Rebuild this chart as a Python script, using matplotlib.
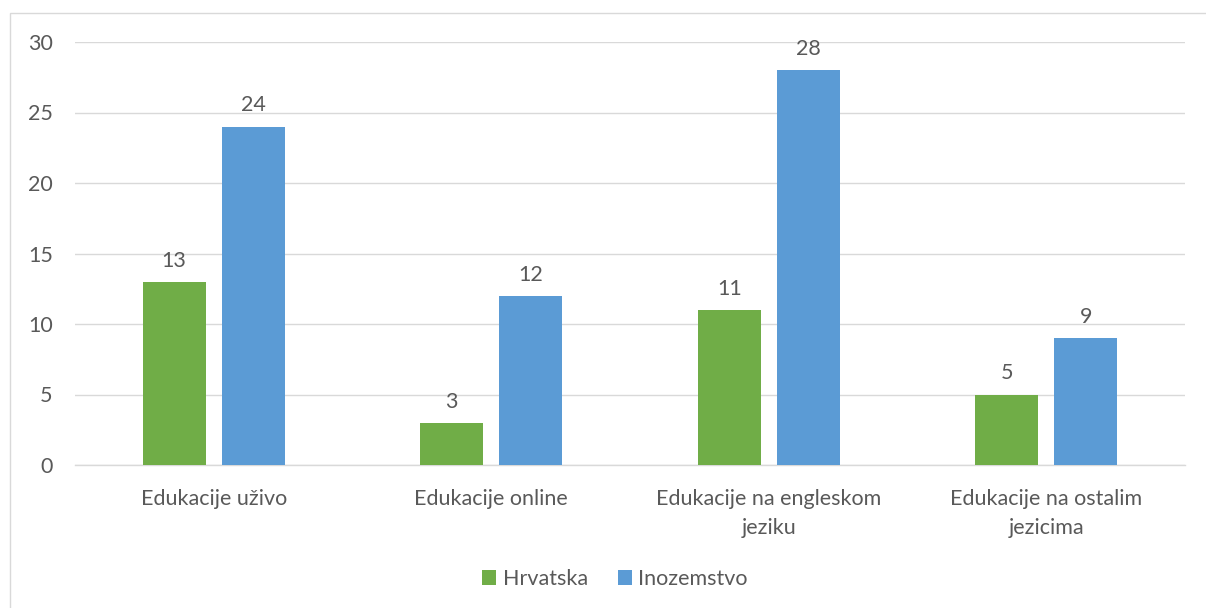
import matplotlib
matplotlib.use("Agg")
import matplotlib.pyplot as plt
from matplotlib.patches import Rectangle
import numpy as np

categories = ["Edukacije uživo", "Edukacije online", "Edukacije na engleskom\njeziku", "Edukacije na ostalim\njezicima"]
hrvatska = [13, 3, 11, 5]
inozemstvo = [24, 12, 28, 9]
series_names = ["Hrvatska", "Inozemstvo"]
yticks = [0, 5, 10, 15, 20, 25, 30]

GREEN = "#70AD47"
BLUE = "#5B9BD5"
TXT = "#595959"
GRID = "#D9D9D9"

plt.rcParams['font.family'] = ['Lato', 'DejaVu Sans']
FS = 15.5

fig = plt.figure(figsize=(12.06, 6.08), dpi=100)
W, H = 1206, 608
ax = fig.add_axes([75 / W, 1 - 465 / H, 1110 / W, 423 / H])

x = np.arange(len(categories))
bw = 0.227
off = 0.1425
b1 = ax.bar(x - off, hrvatska, bw, color=GREEN, label=series_names[0], zorder=3)
b2 = ax.bar(x + off, inozemstvo, bw, color=BLUE, label=series_names[1], zorder=3)

for bars, vals in ((b1, hrvatska), (b2, inozemstvo)):
    for r, v in zip(bars, vals):
        ax.annotate(str(v), (r.get_x() + r.get_width() / 2, v), xytext=(0, 8),
                    textcoords="offset points", ha="center", va="bottom",
                    fontsize=FS, color=TXT)

ax.set_xlim(-0.5, len(categories) - 0.5)
ax.set_ylim(0, 30)
ax.set_yticks(yticks)
ax.set_xticks(x)
ax.set_xticklabels(categories, linespacing=1.6)
ax.tick_params(axis='both', length=0, labelsize=FS, labelcolor=TXT)
ax.tick_params(axis='y', pad=16)
ax.tick_params(axis='x', pad=17)
ax.grid(axis='y', color=GRID, linewidth=1.0, zorder=0)
for s in ['top', 'right', 'left']:
    ax.spines[s].set_visible(False)
ax.spines['bottom'].set_color(GRID)
ax.spines['bottom'].set_linewidth(1.0)
ax.set_axisbelow(True)

leg = fig.legend(handles=[b1, b2], labels=series_names, loc="center",
                 bbox_to_anchor=(615 / W, 1 - 579 / H), ncol=2, frameon=False,
                 fontsize=FS, handlelength=0.65, handleheight=0.65,
                 handletextpad=0.3, columnspacing=1.4)
for t in leg.get_texts():
    t.set_color(TXT)

fig.patches.append(Rectangle((10 / W, -0.1), 1.2, 1 - 13 / H + 0.1,
                             transform=fig.transFigure, fill=False,
                             edgecolor=GRID, linewidth=1.0))

fig.savefig("out.png", dpi=100)
